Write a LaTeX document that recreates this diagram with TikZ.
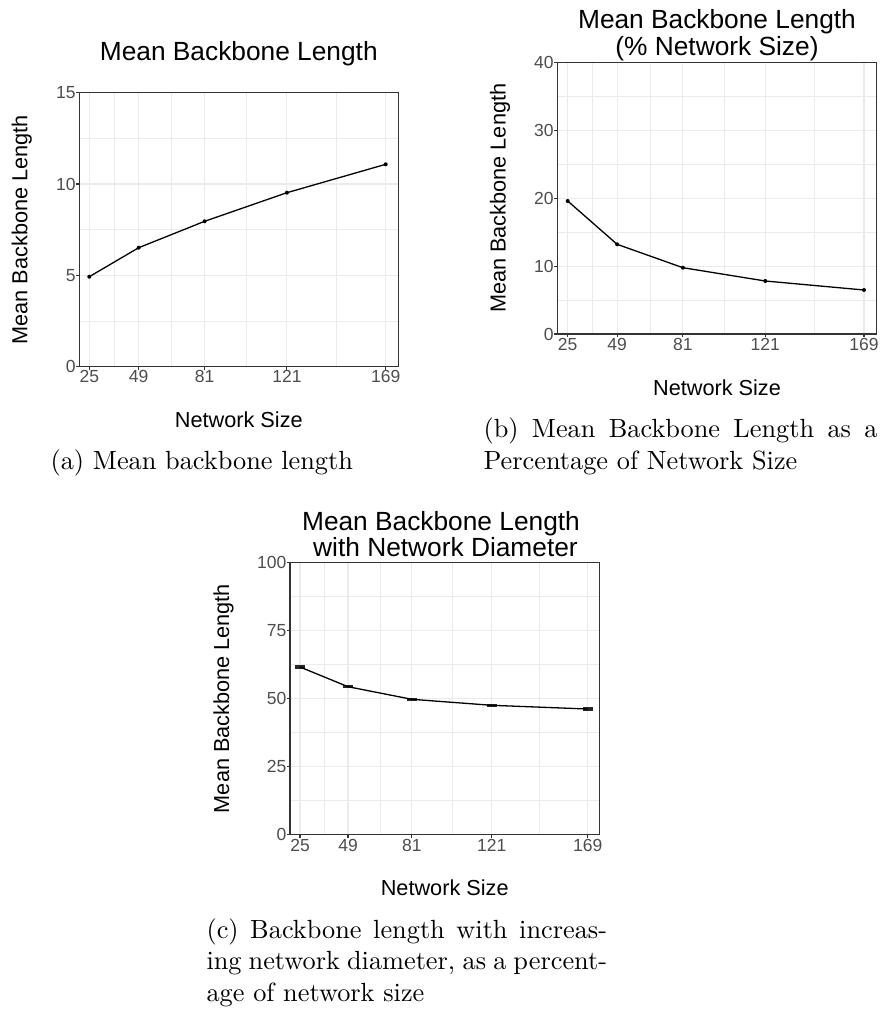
\documentclass[tikz,border=0pt]{standalone}
\usepackage{fontspec}
\newfontfamily\plotfont{Liberation Sans}
\definecolor{gridc}{HTML}{EBEBEB}
\definecolor{framec}{HTML}{333333}
\definecolor{tickc}{HTML}{4D4D4D}
\tikzset{
  gmajor/.style={draw=gridc, line width=1.1pt},
  gminor/.style={draw=gridc, line width=0.6pt},
  frame/.style={draw=framec, line width=1.1pt},
  tickm/.style={draw=framec, line width=1.1pt},
  dataline/.style={draw=black, line width=1.3pt},
  dot/.style={circle, fill=black, inner sep=0pt, minimum size=4pt},
  ebar/.style={rectangle, fill=black!85, inner sep=0pt, minimum width=10pt, minimum height=3.5pt},
  ticklab/.style={font=\plotfont\fontsize{17.5}{20}\selectfont, text=tickc, inner sep=0pt},
  axtitle/.style={font=\plotfont\fontsize{21.7}{25}\selectfont, inner sep=0pt},
  ptitle/.style={font=\plotfont\fontsize{26.3}{30}\selectfont, inner sep=0pt},
  capt/.style={scale=2.63, inner sep=0pt, font=\fontsize{10}{12}\selectfont}
}
\begin{document}
\begin{tikzpicture}[x=1pt,y=-1pt]
\useasboundingbox (0,0) rectangle (882,1010);

% ---------------- Panel (a) ----------------
\foreach \x in {114.0,171.6,245.8,336.3} \draw[gminor] (\x,92.7) -- (\x,366.7);
\foreach \y in {321.0,229.7,138.4} \draw[gminor] (79.3,\y) -- (398.3,\y);
\foreach \x in {89.3,138.7,204.6,286.9,385.7} \draw[gmajor] (\x,92.7) -- (\x,366.7);
\foreach \y in {275.4,184.0} \draw[gmajor] (79.3,\y) -- (398.3,\y);
\draw[frame] (79.3,92.7) rectangle (398.3,366.7);
\foreach \x/\l in {89.3/25,138.7/49,204.6/81,286.9/121,385.7/169} {
  \draw[tickm] (\x,366.7) -- (\x,369.7);
  \node[ticklab, anchor=base] (ax\l) at (\x,382.7) {\l};
}
\foreach \y/\l in {366.7/0,275.4/5,184.0/10,92.7/15} {
  \draw[tickm] (79.3,\y) -- (76.3,\y);
  \node[ticklab, anchor=east] (ay\l) at (75.8,\y) {\l};
}
\node[dot] (a1) at (89.3,276.7) {};
\node[dot] (a2) at (138.7,247.7) {};
\node[dot] (a3) at (204.6,221.3) {};
\node[dot] (a4) at (286.9,192.7) {};
\node[dot] (a5) at (385.7,164.3) {};
\draw[dataline] (a1.center) -- (a2.center) -- (a3.center) -- (a4.center) -- (a5.center);
\node[ptitle, anchor=base] (ta) at (238.8,60.7) {Mean Backbone Length};
\node[axtitle, anchor=base] (xa) at (238.8,427.4) {Network Size};
\node[axtitle, anchor=base, rotate=90] (ya) at (27.4,229.7) {Mean Backbone Length};
\node[capt, anchor=base west] (ca) at (50,469.5) {(a) Mean backbone length};

% ---------------- Panel (b) ----------------
\foreach \x in {592.4,650.0,724.1,814.7} \draw[gminor] (\x,62.7) -- (\x,334);
\foreach \y in {300.1,232.3,164.4,96.6} \draw[gminor] (557.3,\y) -- (876.7,\y);
\foreach \x in {567.7,617.1,682.9,765.3,864.0} \draw[gmajor] (\x,62.7) -- (\x,334);
\foreach \y in {266.2,198.4,130.5} \draw[gmajor] (557.3,\y) -- (876.7,\y);
\draw[frame] (557.3,62.7) rectangle (876.7,334);
\foreach \x/\l in {567.7/25,617.1/49,682.9/81,765.3/121,864.0/169} {
  \draw[tickm] (\x,334) -- (\x,337);
  \node[ticklab, anchor=base] (bx\l) at (\x,350) {\l};
}
\foreach \y/\l in {334/0,266.2/10,198.4/20,130.5/30,62.7/40} {
  \draw[tickm] (557.3,\y) -- (554.3,\y);
  \node[ticklab, anchor=east] (by\l) at (553.8,\y) {\l};
}
\node[dot] (b1) at (567.7,201) {};
\node[dot] (b2) at (617.1,244.3) {};
\node[dot] (b3) at (682.9,267.7) {};
\node[dot] (b4) at (765.3,281) {};
\node[dot] (b5) at (864.0,290) {};
\draw[dataline] (b1.center) -- (b2.center) -- (b3.center) -- (b4.center) -- (b5.center);
\node[ptitle, anchor=base] (tb1) at (717,28.3) {Mean Backbone Length};
\node[ptitle, anchor=base] (tb2) at (717,55) {(\% Network Size)};
\node[axtitle, anchor=base] (xb) at (717,395.4) {Network Size};
\node[axtitle, anchor=base, rotate=90] (yb) at (505.7,198.3) {Mean Backbone Length};
\node[capt, anchor=base west] (cb1) at (483,437.5) {\makebox[149.8pt][s]{(b) Mean Backbone Length as a}};
\node[capt, anchor=base west] (cb2) at (483,469) {Percentage of Network Size};

% ---------------- Panel (c) ----------------
\foreach \x in {324.0,379.9,451.8,539.7} \draw[gminor] (\x,562.3) -- (\x,834.7);
\foreach \y in {800.65,732.55,664.45,596.35} \draw[gminor] (290,\y) -- (599.3,\y);
\foreach \x in {300,348.0,411.9,491.8,587.7} \draw[gmajor] (\x,562.3) -- (\x,834.7);
\foreach \y in {766.6,698.5,630.4} \draw[gmajor] (290,\y) -- (599.3,\y);
\draw[frame] (290,562.3) rectangle (599.3,834.7);
\foreach \x/\l in {300/25,348.0/49,411.9/81,491.8/121,587.7/169} {
  \draw[tickm] (\x,834.7) -- (\x,837.7);
  \node[ticklab, anchor=base] (cx\l) at (\x,851.7) {\l};
}
\foreach \y/\l in {834.7/0,766.6/25,698.5/50,630.4/75,562.3/100} {
  \draw[tickm] (290,\y) -- (287,\y);
  \node[ticklab, anchor=east] (cy\l) at (286.5,\y) {\l};
}
\node[ebar] (c1) at (300,667) {};
\node[ebar] (c2) at (348.0,686.7) {};
\node[ebar] (c3) at (411.9,699.3) {};
\node[ebar] (c4) at (491.8,705.3) {};
\node[ebar] (c5) at (587.7,709) {};
\draw[dataline] (c1.center) -- (c2.center) -- (c3.center) -- (c4.center) -- (c5.center);
\node[ptitle, anchor=base] (tc1) at (441,530.7) {Mean Backbone Length};
\node[ptitle, anchor=base] (tc2) at (445.5,556.7) {with Network Diameter};
\node[axtitle, anchor=base] (xc) at (444.7,895.4) {Network Size};
\node[axtitle, anchor=base, rotate=90] (yc) at (229,698.5) {Mean Backbone Length};
\node[capt, anchor=base west] (cc1) at (206,938.3) {\makebox[152.3pt][s]{(c) Backbone length with increas-}};
\node[capt, anchor=base west] (cc2) at (206,969.9) {\makebox[152.3pt][s]{ing network diameter, as a percent-}};
\node[capt, anchor=base west] (cc3) at (206,1001.5) {age of network size};
\end{tikzpicture}
\end{document}
